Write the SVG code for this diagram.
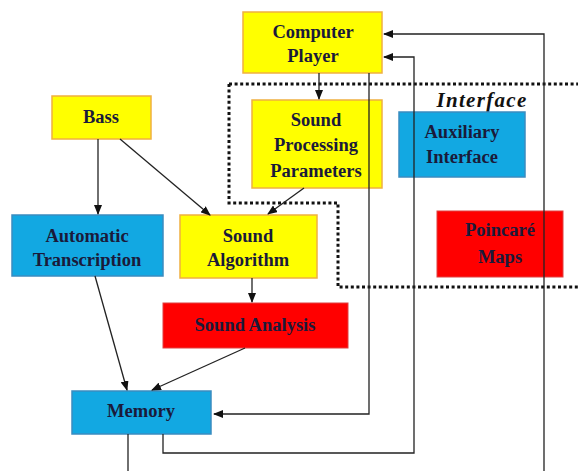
<svg xmlns="http://www.w3.org/2000/svg" width="578" height="471" viewBox="0 0 578 471">
<defs>
<marker id="ah" markerWidth="10" markerHeight="8" refX="9" refY="4" orient="auto" markerUnits="userSpaceOnUse">
<path d="M0,0 L10,4 L0,8 Z" fill="#111"/>
</marker>
<style>
.y{fill:#FFFF00;stroke:#F0B040;stroke-width:1.5}
.b{fill:#12A8E2;stroke:#3A8CC0;stroke-width:1.5}
.r{fill:#FF0000;stroke:#E04040;stroke-width:1}
text{font-family:"Liberation Serif","Times New Roman",serif;font-weight:bold;font-size:18.5px;fill:#1a1a3a;text-anchor:middle}
.c{fill:none;stroke:#222;stroke-width:1.3}
.a{marker-end:url(#ah)}
.dot{fill:none;stroke:#111;stroke-width:3;stroke-dasharray:3 2.6}
</style>
</defs>
<rect width="578" height="471" fill="#fff"/>
<path class="dot" d="M229,84 H578 M229,84 V203 H338 V287 H578"/>
<text x="482" y="107" style="font-style:italic;font-size:21px;letter-spacing:1.3px;fill:#111">Interface</text>
<g id="computer-player"><rect class="y" x="243" y="12" width="139" height="61"/><text x="313" y="38">Computer</text><text x="313" y="62">Player</text></g>
<g id="sound-processing-parameters"><rect class="y" x="252" y="100" width="130" height="88"/><text x="316" y="126">Sound</text><text x="316" y="151">Processing</text><text x="316" y="177">Parameters</text></g>
<g id="auxiliary-interface"><rect class="b" x="399" y="112" width="126" height="65"/><text x="462" y="138">Auxiliary</text><text x="462" y="163">Interface</text></g>
<g id="bass"><rect class="y" x="52" y="96" width="99" height="43"/><text x="101" y="123">Bass</text></g>
<g id="automatic-transcription"><rect class="b" x="12" y="215" width="151" height="61"/><text x="87" y="242">Automatic</text><text x="87" y="266">Transcription</text></g>
<g id="sound-algorithm"><rect class="y" x="180" y="215" width="137" height="63"/><text x="248" y="242">Sound</text><text x="248" y="266">Algorithm</text></g>
<g id="poincare-maps"><rect class="r" x="437" y="211" width="126" height="66"/><text x="500" y="236">Poincaré</text><text x="500" y="263">Maps</text></g>
<g id="sound-analysis"><rect class="r" x="163" y="303" width="185" height="45"/><text x="255" y="331">Sound Analysis</text></g>
<g id="memory"><rect class="b" x="72" y="391" width="139" height="43"/><text x="141" y="417">Memory</text></g>
<g id="connectors">
<path class="c a" d="M319,73 V99"/>
<path class="c a" d="M98,139 V214"/>
<path class="c a" d="M120,139 L210,215"/>
<path class="c a" d="M304,188 L268,214"/>
<path class="c a" d="M252,278 V302"/>
<path class="c a" d="M95,276 L127,390"/>
<path class="c a" d="M245,348 L152,390"/>
<path class="c a" d="M369,73 V414 H214"/>
<path class="c a" d="M163,434 V453 H414 V57 H384"/>
<path class="c a" d="M544,471 V34 H384"/>
<path class="c" d="M128,434 V471"/>
</g>
</svg>
